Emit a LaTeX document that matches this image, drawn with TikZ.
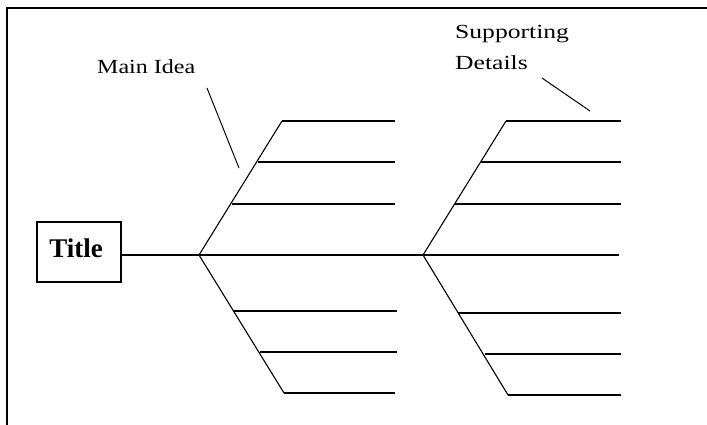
\documentclass[tikz,border=0pt]{standalone}
\usepackage{fontspec}
\setmainfont{Liberation Serif}
\begin{document}
\begin{tikzpicture}[x=1pt,y=-1pt,
  frame/.style={line width=2pt, line cap=rect},
  bone/.style={line width=1.5pt},
  diag/.style={line width=1.1pt},
  pointer/.style={line width=1pt},
  lbl/.style={inner sep=0pt, font=\fontsize{20}{31}\selectfont}]
\useasboundingbox (0,0) rectangle (707,424);
\fill[white] (0,0) rectangle (707,424);
% frame
\coordinate (fTR) at (707,8);
\coordinate (fTL) at (7,8);
\coordinate (fBL) at (7,424);
\draw[frame] (fTR) -- (fTL) -- (fBL);
% title
\node[draw, line width=1.3pt, minimum width=84pt, minimum height=60pt, inner sep=0pt,
      text height=19pt, text depth=9pt, font=\fontsize{27}{30}\selectfont\bfseries]
      (title) at (79,252) {\hspace*{-6pt}Title};
% vertices
\coordinate (L) at (199,255);
\coordinate (R) at (423,255);
\coordinate (E) at (619,255);
\draw[bone] (title.east |- L) -- (L) -- (R) -- (E);
% left upper
\coordinate (lu1) at (282,121); \coordinate (lu1e) at (395,121);
\coordinate (lu2) at (258,162); \coordinate (lu2e) at (395,162);
\coordinate (lu3) at (232,204); \coordinate (lu3e) at (395,204);
\draw[diag] (L) -- (lu1);
\draw[bone] (lu1) -- (lu1e) (lu2) -- (lu2e) (lu3) -- (lu3e);
% left lower
\coordinate (ll1) at (234,311); \coordinate (ll1e) at (397,311);
\coordinate (ll2) at (260,352); \coordinate (ll2e) at (397,352);
\coordinate (ll3) at (284,393); \coordinate (ll3e) at (395,393);
\draw[diag] (L) -- (ll3);
\draw[bone] (ll1) -- (ll1e) (ll2) -- (ll2e) (ll3) -- (ll3e);
% right upper
\coordinate (ru1) at (506,121); \coordinate (ru1e) at (621,121);
\coordinate (ru2) at (481,162); \coordinate (ru2e) at (621,162);
\coordinate (ru3) at (455,204); \coordinate (ru3e) at (621,204);
\draw[diag] (R) -- (ru1);
\draw[bone] (ru1) -- (ru1e) (ru2) -- (ru2e) (ru3) -- (ru3e);
% right lower
\coordinate (rl1) at (458,313); \coordinate (rl1e) at (621,313);
\coordinate (rl2) at (485,354); \coordinate (rl2e) at (621,354);
\coordinate (rl3) at (508,395); \coordinate (rl3e) at (621,395);
\draw[diag] (R) -- (rl3);
\draw[bone] (rl1) -- (rl1e) (rl2) -- (rl2e) (rl3) -- (rl3e);
% labels
\node[lbl, anchor=base west] (main) at (97,73) {\scalebox{1.2}[1]{Main Idea}};
\node[lbl, anchor=base west] (sup) at (455,38)
  {\scalebox{1.28}[1]{\begin{tabular}[t]{@{}l@{}}Supporting\\Details\end{tabular}}};
\coordinate (mp1) at (207,88); \coordinate (mp2) at (239,168);
\coordinate (sp1) at (542,78); \coordinate (sp2) at (590,111);
\draw[pointer] (mp1) -- (mp2);
\draw[pointer] (sp1) -- (sp2);
\end{tikzpicture}
\end{document}
